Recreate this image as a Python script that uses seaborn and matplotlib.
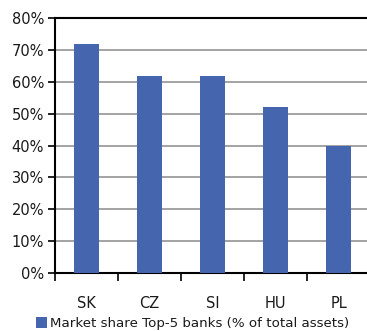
import matplotlib
matplotlib.use("Agg")
import matplotlib.pyplot as plt
from matplotlib.patches import Patch
from matplotlib.ticker import FixedLocator, PercentFormatter
import seaborn as sns
import pandas as pd

countries = ["SK", "CZ", "SI", "HU", "PL"]
market_share = [72, 62, 62, 52, 40]
series_label = "Market share Top-5 banks (% of total assets)"
y_ticks = [0, 10, 20, 30, 40, 50, 60, 70, 80]

bar_color = "#4565AF"

sns.set_style("white")
plt.rcParams["font.family"] = ["DejaVu Sans"]
plt.rcParams["text.color"] = "#1a1a1a"
plt.rcParams["xtick.labelcolor"] = "#1a1a1a"
plt.rcParams["ytick.labelcolor"] = "#1a1a1a"

df = pd.DataFrame({"country": countries, "share": market_share})

W, H = 367, 331
fig = plt.figure(figsize=(W / 100, H / 100), dpi=100)
ax = fig.add_axes([55 / W, 58.3 / H, 315 / W, 254.4 / H])

sns.barplot(data=df, x="country", y="share", color=bar_color, width=0.41,
            saturation=1, linewidth=0, edgecolor="none", ax=ax, zorder=3)

ax.set_xlim(-0.5, len(countries) - 0.5)
ax.set_ylim(0, 80)
ax.set_xlabel("")
ax.set_ylabel("")

ax.set_yticks(y_ticks)
ax.yaxis.set_major_formatter(PercentFormatter(decimals=0))
ax.tick_params(axis="y", which="major", left=True, length=5, width=1.2,
               direction="out", labelsize=10.5, pad=3, color="black")

# category labels centred, tick marks on the category boundaries
ax.tick_params(axis="x", which="major", length=0, labelsize=10.5, pad=17)
ax.xaxis.set_minor_locator(FixedLocator([i - 0.5 for i in range(len(countries) + 1)]))
ax.tick_params(axis="x", which="minor", bottom=True, length=6, width=1.2,
               direction="out", color="black")

for y in y_ticks[1:-1]:
    ax.axhline(y, color="#A3A3A3", lw=1.4, zorder=1)

for side in ["left", "bottom", "top"]:
    ax.spines[side].set_visible(True)
    ax.spines[side].set_color("black")
    ax.spines[side].set_linewidth(1.5)
ax.spines["right"].set_visible(False)

fig.legend(handles=[Patch(facecolor=bar_color, edgecolor="none", label=series_label)],
           loc="center left", bbox_to_anchor=(36 / W, 1 - 323.5 / H),
           frameon=False, fontsize=9.6, handlelength=0.8, handleheight=0.85,
           handletextpad=0.25, borderpad=0, borderaxespad=0)

fig.savefig("out.png", dpi=100)
